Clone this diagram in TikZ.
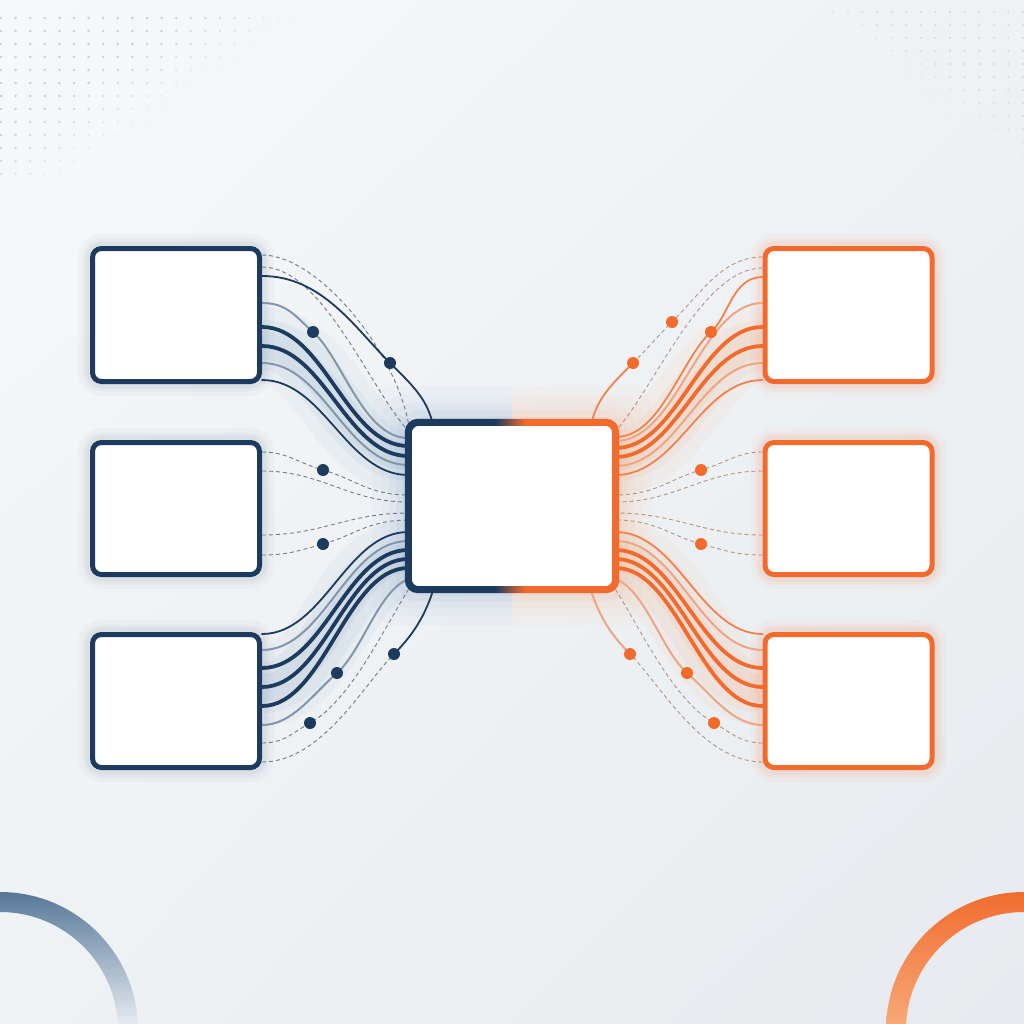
\documentclass[tikz,border=0pt]{standalone}
\usetikzlibrary{calc,shadings}
\definecolor{navy}{HTML}{1C3B5E}
\definecolor{orng}{HTML}{F26A2C}
\definecolor{gryb}{HTML}{8396AA}
\definecolor{lorng}{HTML}{EEA584}
\definecolor{dashb}{HTML}{6E7B89}
\definecolor{dasho}{HTML}{B8927E}
\definecolor{glowb}{HTML}{7FA3C8}
\definecolor{glowo}{HTML}{F8A574}
\definecolor{griddot}{HTML}{BFC5CB}
\definecolor{arcb}{HTML}{557698}
\definecolor{arcb2}{HTML}{E6EBF0}
\definecolor{arco}{HTML}{F06C2E}
\definecolor{arco2}{HTML}{F8A878}
\definecolor{bgul}{HTML}{F7F8F9}
\definecolor{bgur}{HTML}{EFF2F4}
\definecolor{bgll}{HTML}{EEF2F4}
\definecolor{bglr}{HTML}{E7EBEF}
\pgfdeclarehorizontalshading{navorg}{100bp}{color(0bp)=(navy); color(46bp)=(navy); color(53bp)=(orng); color(100bp)=(orng)}
\pgfdeclarelayer{back}
\pgfdeclarelayer{mid}
\pgfsetlayers{back,mid,main}
\tikzset{
  lbox/.style={draw=navy, line width=5pt, fill=white, rounded corners=9pt, minimum width=167pt, minimum height=133pt, inner sep=0pt},
  rbox/.style={lbox, draw=orng},
  cbox/.style={fill=white, rounded corners=10pt, minimum width=207pt, minimum height=167pt, inner sep=0pt},
  thkL/.style={navy, line width=3.8pt, line cap=round},
  thnL/.style={navy, line width=1.8pt, line cap=round},
  gryL/.style={gryb, line width=2pt, line cap=round},
  dshL/.style={dashb, line width=0.9pt, dash pattern=on 4pt off 3pt},
  thkR/.style={orng, line width=3.8pt, line cap=round},
  thnR/.style={orng!85!white, line width=1.8pt, line cap=round},
  gryR/.style={lorng, line width=2pt, line cap=round},
  dshR/.style={dasho, line width=0.9pt, dash pattern=on 4pt off 3pt},
  dotL/.style={circle, fill=navy, minimum size=12pt, inner sep=0pt},
  dotR/.style={circle, fill=orng, minimum size=12pt, inner sep=0pt},
}
\begin{document}
\begin{tikzpicture}[x=1pt,y=-1pt]
\useasboundingbox (0,0) rectangle (1024,1024);
% ---------- nodes ----------
\node[lbox] (tl) at (176,315) {};
\node[lbox, minimum height=132pt] (ml) at (176,508.5) {};
\node[lbox] (bl) at (176,701) {};
\node[rbox] (tr) at (848.5,315) {};
\node[rbox, minimum height=132pt] (mr) at (848.5,508.5) {};
\node[rbox] (br) at (848.5,701) {};
\node[cbox] (c) at (512,506) {};
\begin{scope}[even odd rule]
\shade[shading=navorg]
  [rounded corners=13pt] ([shift={(-3.5,-3.5)}]c.north west) rectangle ([shift={(3.5,3.5)}]c.south east)
  [rounded corners=7pt] ([shift={(3.5,3.5)}]c.north west) rectangle ([shift={(-3.5,-3.5)}]c.south east);
\end{scope}
% dots on connectors
\node[dotL] (d1) at (390,363) {};
\node[dotL] (d2) at (313,332) {};
\node[dotL] (d3) at (323,470) {};
\node[dotL] (d4) at (323,544) {};
\node[dotL] (d5) at (337,673) {};
\node[dotL] (d6) at (310,723) {};
\node[dotL] (d7) at (394,654) {};
\node[dotR] (e0) at (672,322) {};
\node[dotR] (e1) at (633,363) {};
\node[dotR] (e2) at (711,332) {};
\node[dotR] (e3) at (701,470) {};
\node[dotR] (e4) at (701,544) {};
\node[dotR] (e5) at (687,673) {};
\node[dotR] (e6) at (714,723) {};
\node[dotR] (e7) at (630,654) {};
% ---------- background ----------
\begin{pgfonlayer}{back}
\clip (0,0) rectangle (1024,1024);
\shade[upper left=bgul, upper right=bgur, lower left=bgll, lower right=bglr]
  (0,0) rectangle (1024,1024);
\foreach \i in {0,...,22}{\foreach \j in {0,...,12}{
  \pgfmathsetmacro\xx{1+14.6*\i}
  \pgfmathsetmacro\yy{18+13*\j}
  \pgfmathsetmacro\op{max(0,min(0.8,2*(1-\xx/330-\yy/230)))}
  \fill[griddot, opacity=\op] (\xx,\yy) circle (1.4pt);
  \pgfmathsetmacro\xr{1023-14.6*\i}
  \pgfmathsetmacro\yr{12+13*\j}
  \pgfmathsetmacro\opr{max(0,min(0.45,1.5*(1-(1023-\xr)/240-\yr/170)))}
  \fill[griddot, opacity=\opr] (\xr,\yr) circle (1.3pt);
}}
\begin{scope}[even odd rule]
  \clip (0,1030) circle (138pt) (0,1030) circle (118pt);
  \shade[top color=arcb, bottom color=arcb2] (0,890) rectangle (145,1024);
\end{scope}
\begin{scope}[even odd rule]
  \clip (1024,1030) circle (138pt) (1024,1030) circle (118pt);
  \shade[top color=arco, bottom color=arco2] (879,890) rectangle (1024,1024);
\end{scope}
\end{pgfonlayer}
% ---------- glows and connectors ----------
\begin{pgfonlayer}{mid}
% center glow
\begin{scope}
  \clip (0,0) rectangle (512,1024);
  \foreach \e/\o in {36/0.04,27/0.05,19/0.06,12/0.08,6/0.09}
    \fill[glowb, opacity=\o, rounded corners=22pt] ([shift={(-\e,-\e)}]c.north west) rectangle ([shift={(\e,\e)}]c.south east);
\end{scope}
\begin{scope}
  \clip (512,0) rectangle (1024,1024);
  \foreach \e/\o in {36/0.04,27/0.05,19/0.06,12/0.08,6/0.09}
    \fill[glowo, opacity=\o, rounded corners=22pt] ([shift={(-\e,-\e)}]c.north west) rectangle ([shift={(\e,\e)}]c.south east);
\end{scope}
% box glows
\foreach \n in {tl,ml,bl}
  \foreach \w/\o in {24/0.025,15/0.035,9/0.045}
    \draw[navy, opacity=\o, line width=\w pt, rounded corners=12pt] (\n.north west) rectangle (\n.south east);
\foreach \n in {tr,mr,br}
  \foreach \w/\o in {24/0.04,15/0.05,9/0.06}
    \draw[orng, opacity=\o, line width=\w pt, rounded corners=12pt] (\n.north west) rectangle (\n.south east);
% bundle glows
\foreach \w/\o in {76/0.07,50/0.09,28/0.12}{
  \draw[glowb, opacity=\o, line width=\w pt] (tl.east|-0,345) .. controls +(62,0) and +(-62,0) .. (c.west|-0,456);
  \draw[glowb, opacity=\o, line width=\w pt] (bl.east|-0,688) .. controls +(62,0) and +(-62,0) .. (c.west|-0,558);
  \draw[glowo, opacity=\o, line width=\w pt] (tr.west|-0,345) .. controls +(-62,0) and +(62,0) .. (c.east|-0,456);
  \draw[glowo, opacity=\o, line width=\w pt] (br.west|-0,688) .. controls +(-62,0) and +(62,0) .. (c.east|-0,558);
}
% ---- left top bundle
\draw[dshL] (tl.east|-0,255) .. controls +(55,0) and +(-15,-75) .. (c.north west);
\draw[dshL] (tl.east|-0,267) .. controls +(60,0) and +(-40,-45) .. (c.west|-0,431);
\draw[thnL] (tl.east|-0,276) .. controls +(60,0) and +(-35,-35) .. (d1.center) .. controls +(20,20) and +(-6,-25) .. ([xshift=24pt]c.north west);
\draw[gryL] (tl.east|-0,303) .. controls +(25,0) and +(-18,-16) .. (d2.center) .. controls +(30,27) and +(-45,0) .. (c.west|-0,438);
\draw[thkL] (tl.east|-0,327) .. controls +(62,0) and +(-62,0) .. (c.west|-0,446);
\draw[thkL] (tl.east|-0,346) .. controls +(62,0) and +(-62,0) .. (c.west|-0,456);
\draw[gryL] (tl.east|-0,363) .. controls +(62,0) and +(-62,0) .. (c.west|-0,465);
\draw[thnL] (tl.east|-0,380) .. controls +(62,0) and +(-62,0) .. (c.west|-0,475);
% ---- left middle
\draw[dshL] (ml.east|-0,452) .. controls +(25,0) and +(-25,-7) .. (d3.center) .. controls +(30,8) and +(-40,0) .. (c.west|-0,495);
\draw[dshL] (ml.east|-0,471) .. controls +(60,0) and +(-60,0) .. (c.west|-0,502);
\draw[dshL] (ml.east|-0,535) .. controls +(60,0) and +(-60,0) .. (c.west|-0,513);
\draw[dshL] (ml.east|-0,555) .. controls +(25,0) and +(-25,7) .. (d4.center) .. controls +(30,-8) and +(-40,0) .. (c.west|-0,520);
% ---- left bottom bundle
\draw[thnL] (bl.east|-0,634) .. controls +(62,0) and +(-62,0) .. (c.west|-0,532);
\draw[gryL] (bl.east|-0,650) .. controls +(62,0) and +(-62,0) .. (c.west|-0,541);
\draw[thkL] (bl.east|-0,668) .. controls +(62,0) and +(-62,0) .. (c.west|-0,550);
\draw[thkL] (bl.east|-0,687) .. controls +(62,0) and +(-62,0) .. (c.west|-0,559);
\draw[thkL] (bl.east|-0,706) .. controls +(62,0) and +(-62,0) .. (c.west|-0,568);
\draw[gryL] (bl.east|-0,725) .. controls +(30,0) and +(-25,22) .. (d5.center) .. controls +(25,-22) and +(-30,12) .. (c.west|-0,579);
\draw[dshL] (bl.east|-0,743) .. controls +(22,0) and +(-18,10) .. (d6.center) .. controls +(40,-22) and +(-25,40) .. (c.south west);
\draw[dshL] (bl.east|-0,762) .. controls +(60,0) and +(-30,30) .. (d7.center);
\draw[thnL] (d7.center) .. controls +(20,-20) and +(-8,25) .. ([xshift=25pt]c.south west);
% ---- right top bundle
\draw[dshR] (tr.west|-0,257) .. controls +(-40,0) and +(30,-30) .. (e0.center) .. controls +(-15,15) and +(15,-15) .. (e1.center);
\draw[thnR] (e1.center) .. controls +(-20,20) and +(6,-25) .. ([xshift=-24pt]c.north east);
\draw[dshR] (tr.west|-0,268) .. controls +(-60,0) and +(40,-45) .. (c.east|-0,431);
\draw[thnR] (tr.west|-0,277) .. controls +(-30,0) and +(18,-16) .. (e2.center) .. controls +(-30,27) and +(45,0) .. (c.east|-0,437);
\draw[gryR] (tr.west|-0,303) .. controls +(-62,0) and +(62,0) .. (c.east|-0,441);
\draw[thkR] (tr.west|-0,327) .. controls +(-62,0) and +(62,0) .. (c.east|-0,448);
\draw[thkR] (tr.west|-0,346) .. controls +(-62,0) and +(62,0) .. (c.east|-0,457);
\draw[gryR] (tr.west|-0,363) .. controls +(-62,0) and +(62,0) .. (c.east|-0,466);
\draw[thnR] (tr.west|-0,380) .. controls +(-62,0) and +(62,0) .. (c.east|-0,475);
% ---- right middle
\draw[dshR] (mr.west|-0,452) .. controls +(-25,0) and +(25,-7) .. (e3.center) .. controls +(-30,8) and +(40,0) .. (c.east|-0,495);
\draw[dshR] (mr.west|-0,471) .. controls +(-60,0) and +(60,0) .. (c.east|-0,502);
\draw[dshR] (mr.west|-0,535) .. controls +(-60,0) and +(60,0) .. (c.east|-0,513);
\draw[dshR] (mr.west|-0,555) .. controls +(-25,0) and +(25,7) .. (e4.center) .. controls +(-30,-8) and +(40,0) .. (c.east|-0,520);
% ---- right bottom bundle
\draw[thnR] (br.west|-0,634) .. controls +(-62,0) and +(62,0) .. (c.east|-0,532);
\draw[gryR] (br.west|-0,650) .. controls +(-62,0) and +(62,0) .. (c.east|-0,541);
\draw[thkR] (br.west|-0,668) .. controls +(-62,0) and +(62,0) .. (c.east|-0,550);
\draw[thkR] (br.west|-0,687) .. controls +(-62,0) and +(62,0) .. (c.east|-0,559);
\draw[thkR] (br.west|-0,706) .. controls +(-62,0) and +(62,0) .. (c.east|-0,568);
\draw[gryR] (br.west|-0,725) .. controls +(-30,0) and +(25,22) .. (e5.center) .. controls +(-25,-22) and +(30,12) .. (c.east|-0,579);
\draw[dshR] (br.west|-0,743) .. controls +(-22,0) and +(18,10) .. (e6.center) .. controls +(-40,-22) and +(25,40) .. (c.south east);
\draw[dshR] (br.west|-0,762) .. controls +(-60,0) and +(30,30) .. (e7.center);
\draw[gryR] (e7.center) .. controls +(-20,-20) and +(8,25) .. ([xshift=-25pt]c.south east);
\end{pgfonlayer}
\end{tikzpicture}
\end{document}
